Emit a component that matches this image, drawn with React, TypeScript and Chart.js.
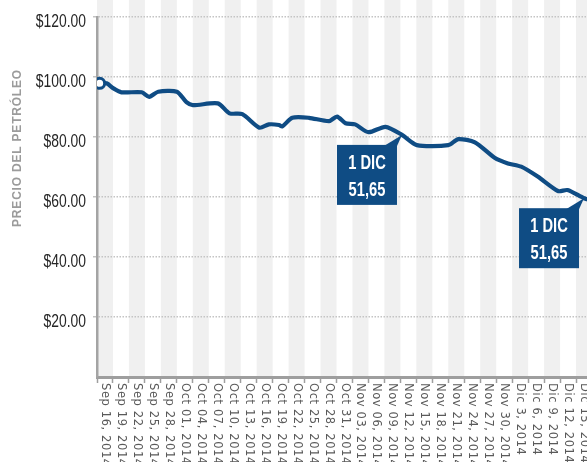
import React, { useEffect, useRef } from "react";
import { Chart, registerables } from "chart.js";

Chart.register(...registerables);

const categories = [
  "Sep 16, 2014", "Sep 19, 2014", "Sep 22, 2014", "Sep 25, 2014", "Sep 28, 2014",
  "Oct 01, 2014", "Oct 04, 2014", "Oct 07, 2014", "Oct 10, 2014", "Oct 13, 2014",
  "Oct 16, 2014", "Oct 19, 2014", "Oct 22, 2014", "Oct 25, 2014", "Oct 28, 2014",
  "Oct 31, 2014", "Nov 03, 2014", "Nov 06, 2014", "Nov 09, 2014", "Nov 12, 2014",
  "Nov 15, 2014", "Nov 18, 2014", "Nov 21, 2014", "Nov 24, 2014", "Nov 27, 2014",
  "Nov 30, 2014", "Dic 3, 2014", "Dic 6, 2014", "Dic 9, 2014", "Dic 12, 2014",
  "Dic 15, 2014",
];

// day offsets from Sep 16, 2014 and oil prices (USD)
const lineDays = [
  -1, 0.3, 1.6, 3.1, 6.9, 8.3, 10, 13.5, 15.3, 16.5, 21.2, 23.4, 25.8, 29, 30.8,
  32.7, 33.3, 35.2, 38.3, 42.1, 43.6, 45.2, 47, 49.5, 52.7, 55.8, 58.6, 64.5,
  66.4, 69.5, 73.2, 75.7, 78.2, 81.3, 85.1, 86.9, 90, 91.5,
];
const lineValues = [
  97.9, 97.9, 96.2, 94.9, 94.9, 93.4, 95.1, 95.1, 91.6, 90.6, 91.2, 87.9, 87.6,
  83.1, 84.2, 84.0, 83.5, 86.4, 86.4, 85.3, 86.8, 84.6, 84.2, 81.6, 83.4, 80.7,
  77.3, 77.3, 79.3, 78.2, 73.1, 71.2, 70.1, 66.8, 62.0, 62.3, 59.6, 58.8,
];

const yTicks = [0, 20, 40, 60, 80, 100, 120];
const yTickLabels = ["", "$20.00", "$40.00", "$60.00", "$80.00", "$100.00", "$120.00"];
const yTitle = "PRECIO DEL PETRÓLEO";

const calloutDays = [55.8, 90];
const calloutValues = [80.7, 59.6];
const calloutTexts = [
  ["1 DIC", "51,65"],
  ["1 DIC", "51,65"],
];

const BLUE = "#0f4c84";

const decorPlugin = {
  id: "decor",
  beforeDraw(chart: any) {
    const { ctx, chartArea } = chart;
    const xs = chart.scales.x;
    const w = (chartArea.right - chartArea.left) / categories.length;
    ctx.save();
    ctx.fillStyle = "#ffffff";
    ctx.fillRect(0, 0, chart.width, chart.height);
    ctx.fillStyle = "#f0f0f0";
    categories.forEach((_, i) => {
      if (i % 2 === 0) {
        const cx = xs.getPixelForValue(i);
        ctx.fillRect(cx - w / 2, 0, w, chartArea.bottom);
      }
    });
    ctx.restore();
  },
  afterDraw(chart: any) {
    const { ctx, chartArea } = chart;
    const xs = chart.scales.x;
    const xl = chart.scales.xl;
    const ys = chart.scales.y;
    ctx.save();
    // x labels, rotated clockwise
    ctx.font = "11.5px 'DejaVu Sans', sans-serif";
    if ("letterSpacing" in ctx) (ctx as any).letterSpacing = "0.6px";
    ctx.fillStyle = "#5a5a5a";
    ctx.textAlign = "left";
    ctx.textBaseline = "middle";
    categories.forEach((lab, i) => {
      const x = xs.getPixelForValue(i);
      ctx.save();
      ctx.translate(x, chartArea.bottom + 6);
      ctx.rotate(Math.PI / 2);
      ctx.fillText(lab, 0, 0);
      ctx.restore();
    });
    if ("letterSpacing" in ctx) (ctx as any).letterSpacing = "0px";
    // y labels (condensed)
    ctx.font = "19px 'Liberation Sans', Arial, sans-serif";
    ctx.fillStyle = "#262626";
    ctx.textAlign = "right";
    ctx.textBaseline = "middle";
    yTicks.forEach((v, i) => {
      const y = ys.getPixelForValue(v);
      ctx.save();
      ctx.translate(86, y + 5);
      ctx.scale(0.73, 1);
      ctx.fillText(yTickLabels[i], 0, 0);
      ctx.restore();
    });
    // y title
    ctx.save();
    ctx.translate(18, 148);
    ctx.rotate(-Math.PI / 2);
    ctx.font = "bold 12px 'Liberation Sans', sans-serif";
    if ("letterSpacing" in ctx) (ctx as any).letterSpacing = "0.8px";
    ctx.fillStyle = "#9b9b9b";
    ctx.textAlign = "center";
    ctx.textBaseline = "middle";
    ctx.fillText(yTitle, 0, 0);
    ctx.restore();
    if ("letterSpacing" in ctx) (ctx as any).letterSpacing = "0px";
    // callouts
    calloutDays.forEach((d, i) => {
      const tx = xl.getPixelForValue(d);
      const ty = ys.getPixelForValue(calloutValues[i]);
      const left = tx - 65;
      const top = ty + 10;
      const bw = 60;
      const bh = 60;
      ctx.fillStyle = BLUE;
      ctx.fillRect(left, top, bw, bh);
      ctx.beginPath();
      ctx.moveTo(left + bw - 13, top + 1);
      ctx.lineTo(left + bw, top + 1);
      ctx.lineTo(tx, ty);
      ctx.closePath();
      ctx.fill();
      ctx.fillStyle = "#ffffff";
      ctx.font = "bold 21px 'Liberation Sans', Arial, sans-serif";
      ctx.textAlign = "center";
      ctx.textBaseline = "middle";
      [0, 1].forEach((k) => {
        ctx.save();
        ctx.translate(left + bw / 2, top + (k === 0 ? 18 : 45));
        ctx.scale(0.7, 1);
        ctx.fillText(calloutTexts[i][k], 0, 0);
        ctx.restore();
      });
    });
    ctx.restore();
  },
};

export default function App() {
  const ref = useRef<HTMLCanvasElement>(null);
  useEffect(() => {
    if (!ref.current) return;
    const chart = new Chart(ref.current, {
      type: "line",
      data: {
        labels: categories,
        datasets: [
          {
            data: lineDays.map((d, i) => ({ x: d, y: lineValues[i] })),
            xAxisID: "xl",
            yAxisID: "y",
            borderColor: BLUE,
            borderWidth: 4.2,
            tension: 0.25,
            borderCapStyle: "round",
            borderJoinStyle: "round",
            fill: false,
            pointRadius: (c: any) => (c.dataIndex === 0 ? 5 : 0),
            pointBorderWidth: 3,
            pointBorderColor: BLUE,
            pointBackgroundColor: "#ffffff",
            pointHoverRadius: 0,
          },
        ],
      },
      options: {
        animation: false,
        responsive: false,
        layout: { padding: { top: 17, right: 5.45, left: 0, bottom: 0 } },
        plugins: { legend: { display: false }, tooltip: { enabled: false } },
        scales: {
          x: {
            type: "category",
            offset: true,
            afterFit: (s: any) => {
              s.height = 85;
            },
            ticks: { display: false },
            grid: {
              offset: true,
              drawOnChartArea: false,
              drawTicks: true,
              tickLength: 6,
              tickColor: "#9e9e9e",
              tickWidth: 1.5,
            },
            border: { display: true, color: "#9e9e9e", width: 3 },
          },
          xl: {
            type: "linear",
            display: false,
            min: -1.5,
            max: categories.length * 3 - 1.5,
          },
          y: {
            min: 0,
            max: 120,
            afterFit: (s: any) => {
              s.width = 97;
            },
            afterBuildTicks: (s: any) => {
              s.ticks = yTicks.map((v) => ({ value: v }));
            },
            ticks: { display: false },
            grid: {
              color: (c: any) => (c.tick && c.tick.value === 0 ? "rgba(0,0,0,0)" : "#c4c4c4"),
              lineWidth: 1.5,
              tickLength: 4,
              drawTicks: true,
            },
            border: { display: true, color: "#a4a4a4", width: 2.5, dash: [1.5, 1.5] },
          },
        },
      },
      plugins: [decorPlugin],
    } as any);
    return () => chart.destroy();
  }, []);
  return (
    <div
      style={{
        position: "fixed",
        left: 0,
        top: 0,
        width: 587,
        height: 462,
        overflow: "hidden",
        background: "#fff",
      }}
    >
      <canvas ref={ref} width={600} height={462} style={{ display: "block" }} />
    </div>
  );
}
